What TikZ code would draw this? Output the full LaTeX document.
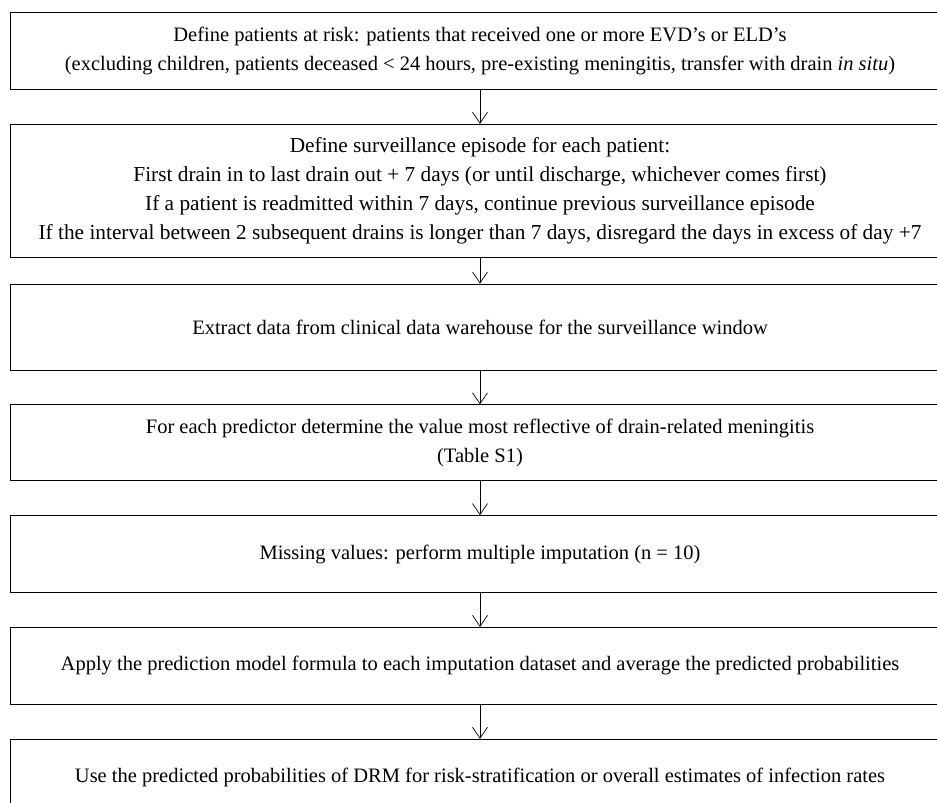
\documentclass[tikz,border=0pt]{standalone}
\usepackage{fontspec}
\setmainfont{Liberation Serif}
\usetikzlibrary{positioning,arrows.meta}
\tikzstyle{stage}=[rectangle,draw,line width=0.8pt,minimum width=940pt,inner sep=0pt,align=center,font=\fontsize{20.5}{29}\selectfont]
\tikzstyle{leads}=[-{Straight Barb[length=11pt,width=15pt]},line width=0.7pt]

\begin{document}
\begin{tikzpicture}[x=1pt,y=1pt,node distance=34pt]
\useasboundingbox (0,0) rectangle (937,-803);

\node (risk) [stage,minimum height=77pt,anchor=north] at (480,-12) {Define patients at risk: patients that received one or more EVD’s or ELD’s\\(excluding children, patients deceased < 24 hours, pre-existing meningitis, transfer with drain \textit{in situ})};
\node (episode) [stage,minimum height=133pt,below=of risk,font=\fontsize{21.3}{29}\selectfont] {Define surveillance episode for each patient:\\First drain in to last drain out + 7 days (or until discharge, whichever comes first)\\If a patient is readmitted within 7 days, continue previous surveillance episode\\If the interval between 2 subsequent drains is longer than 7 days, disregard the days in excess of day +7};
\node (extract) [stage,minimum height=86pt,below=26pt of episode] {Extract data from clinical data warehouse for the surveillance window};
\node (predictor) [stage,minimum height=76pt,below=of extract] {For each predictor determine the value most reflective of drain-related meningitis\\(Table S1)};
\node (missing) [stage,minimum height=77pt,below=of predictor] {Missing values: perform multiple imputation (n = 10)};
\node (apply) [stage,minimum height=77pt,below=of missing] {Apply the prediction model formula to each imputation dataset and average the predicted probabilities};
\node (use) [stage,minimum height=77pt,below=of apply] {Use the predicted probabilities of DRM for risk-stratification or overall estimates of infection rates};

\draw [leads] (risk) -- (episode);
\draw [leads] (episode) -- (extract);
\draw [leads] (extract) -- (predictor);
\draw [leads] (predictor) -- (missing);
\draw [leads] (missing) -- (apply);
\draw [leads] (apply) -- (use);

\end{tikzpicture}
\end{document}
